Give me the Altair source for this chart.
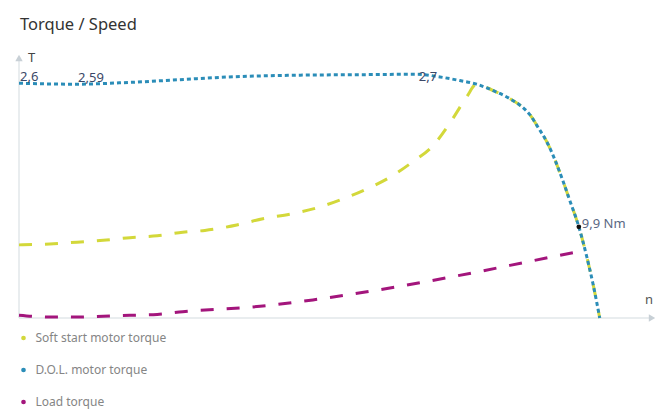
import altair as alt
import pandas as pd

FONT = "Noto Sans"

series_names = ["Soft start motor torque", "D.O.L. motor torque", "Load torque"]
series_colors = ["#d3d83a", "#2b8db8", "#a3157c"]

# D.O.L. motor torque (n as fraction of synchronous speed, T)
dol_n = [0.000, 0.100, 0.191, 0.277, 0.361, 0.484, 0.587, 0.685, 0.725, 0.759, 0.788,
         0.816, 0.845, 0.866, 0.880, 0.893, 0.909, 0.923, 0.936, 0.948, 0.964, 0.978, 0.988, 1.000]
dol_t = [2.60, 2.59, 2.61, 2.64, 2.67, 2.69, 2.695, 2.70, 2.67, 2.63, 2.59,
         2.52, 2.43, 2.34, 2.25, 2.12, 1.95, 1.75, 1.53, 1.31, 1.01, 0.67, 0.39, 0.00]

# Soft start motor torque
soft_n = [0.000, 0.053, 0.100, 0.145, 0.191, 0.238, 0.282, 0.320, 0.375, 0.420, 0.466,
          0.513, 0.558, 0.599, 0.639, 0.678, 0.713, 0.742, 0.771, 0.788,
          0.816, 0.845, 0.866, 0.880, 0.893, 0.909, 0.923, 0.936, 0.948, 0.964, 0.978, 0.988, 1.000]
soft_t = [0.81, 0.82, 0.84, 0.86, 0.89, 0.91, 0.95, 0.97, 1.03, 1.10, 1.15,
          1.22, 1.32, 1.43, 1.56, 1.73, 1.91, 2.16, 2.45, 2.59,
          2.52, 2.43, 2.34, 2.25, 2.12, 1.95, 1.75, 1.53, 1.31, 1.01, 0.67, 0.39, 0.00]

# Load torque
load_n = [0.000, 0.053, 0.100, 0.145, 0.191, 0.238, 0.282, 0.415, 0.506, 0.599, 0.690,
          0.781, 0.874, 0.974]
load_t = [0.03, 0.01, 0.01, 0.02, 0.03, 0.04, 0.07, 0.13, 0.20, 0.29, 0.39,
          0.50, 0.62, 0.75]

# value labels on the D.O.L. curve
label_n = [0.000, 0.100, 0.685]
label_t = [2.60, 2.59, 2.70]
label_text = ["2,6", "2,59", "2,7"]

# operating point
op_n = [0.964]
op_t = [1.01]
op_text = ["9,9 Nm"]

x_max = 1.09
y_max = 2.88

dol_df = pd.DataFrame({"n": dol_n, "t": dol_t, "series": series_names[1]})
soft_df = pd.DataFrame({"n": soft_n, "t": soft_t, "series": series_names[0]})
load_df = pd.DataFrame({"n": load_n, "t": load_t, "series": series_names[2]})
all_df = pd.concat([soft_df, dol_df, load_df], ignore_index=True)

xs = alt.Scale(domain=[0, x_max], nice=False, zero=False)
ys = alt.Scale(domain=[0, y_max], nice=False, zero=False)
cs = alt.Scale(domain=series_names, range=series_colors)

X = alt.X("n:Q", scale=xs, axis=None)
Y = alt.Y("t:Q", scale=ys, axis=None)

def line_layer(df, color, dash, width):
    return alt.Chart(df).mark_line(
        color=color, strokeDash=dash, strokeWidth=width, interpolate="monotone"
    ).encode(x=X, y=Y)

axis_df = pd.DataFrame({"n": [0, 0], "t": [0, 0], "n2": [0, x_max], "t2": [y_max, 0]})
axes = alt.Chart(axis_df).mark_rule(color="#e2e7ea", strokeWidth=1.5).encode(
    x=X, y=Y, x2="n2:Q", y2="t2:Q")

yarrow = alt.Chart(pd.DataFrame({"n": [0], "t": [y_max]})).mark_point(
    shape="triangle-up", filled=True, color="#c8d0d6", size=55, opacity=1).encode(x=X, y=Y)
xarrow = alt.Chart(pd.DataFrame({"n": [x_max], "t": [0]})).mark_point(
    shape="triangle-right", filled=True, color="#c8d0d6", size=55, opacity=1).encode(x=X, y=Y)

tlabel = alt.Chart(pd.DataFrame({"n": [0], "t": [y_max], "s": ["T"]})).mark_text(
    align="left", baseline="alphabetic", dx=9, dy=4, fontSize=13, font=FONT, color="#444444"
).encode(x=X, y=Y, text="s:N")
nlabel = alt.Chart(pd.DataFrame({"n": [x_max], "t": [0], "s": ["n"]})).mark_text(
    align="left", baseline="alphabetic", dx=-7, dy=-14, fontSize=13, font=FONT, color="#555555"
).encode(x=X, y=Y, text="s:N")

lab_df = pd.DataFrame({"n": label_n, "t": label_t, "s": label_text})
labels_a = alt.Chart(lab_df.iloc[:2]).mark_text(
    align="left", baseline="alphabetic", dx=1, dy=-2, fontSize=13, font=FONT, color="#3b4868"
).encode(x=X, y=Y, text="s:N")
labels_b = alt.Chart(lab_df.iloc[2:]).mark_text(
    align="left", baseline="alphabetic", dx=2, dy=7, fontSize=13, font=FONT, color="#3b4868"
).encode(x=X, y=Y, text="s:N")

op_df = pd.DataFrame({"n": op_n, "t": op_t, "s": op_text})
op_pt = alt.Chart(op_df).mark_circle(color="#111111", size=22, opacity=1).encode(x=X, y=Y)
op_lab = alt.Chart(op_df).mark_text(
    align="left", baseline="alphabetic", dx=3, dy=1, fontSize=13, font=FONT, color="#5a6883"
).encode(x=X, y=Y, text="s:N")

legend_layer = alt.Chart(all_df).mark_circle(opacity=0).encode(
    x=X, y=Y,
    color=alt.Color("series:N", scale=cs, legend=alt.Legend(
        title=None, orient="none", legendX=-1.5, legendY=274, direction="vertical",
        symbolType="circle", symbolSize=22, symbolOpacity=1, symbolStrokeWidth=0,
        labelFontSize=12, labelFont=FONT, labelColor="#858585", labelOffset=6,
        rowPadding=20, padding=0)))

chart = alt.layer(
    axes, yarrow, xarrow, tlabel, nlabel,
    line_layer(load_df, series_colors[2], [13, 13], 3),
    line_layer(soft_df, series_colors[0], [13, 13], 3),
    line_layer(dol_df, series_colors[1], [4, 3], 3),
    legend_layer, op_pt, op_lab, labels_a, labels_b,
).properties(
    width=633, height=260,
    title=alt.TitleParams("Torque / Speed", anchor="start", dx=7, offset=19,
                          fontSize=16.5, fontWeight="normal", font=FONT, color="#333333"),
    autosize=alt.AutoSizeParams(type="none"),
    padding={"left": 11, "top": 50, "right": 7, "bottom": 92},
).configure_view(stroke=None)

chart.save("out.html", embed_options={"renderer": "svg", "actions": False})
